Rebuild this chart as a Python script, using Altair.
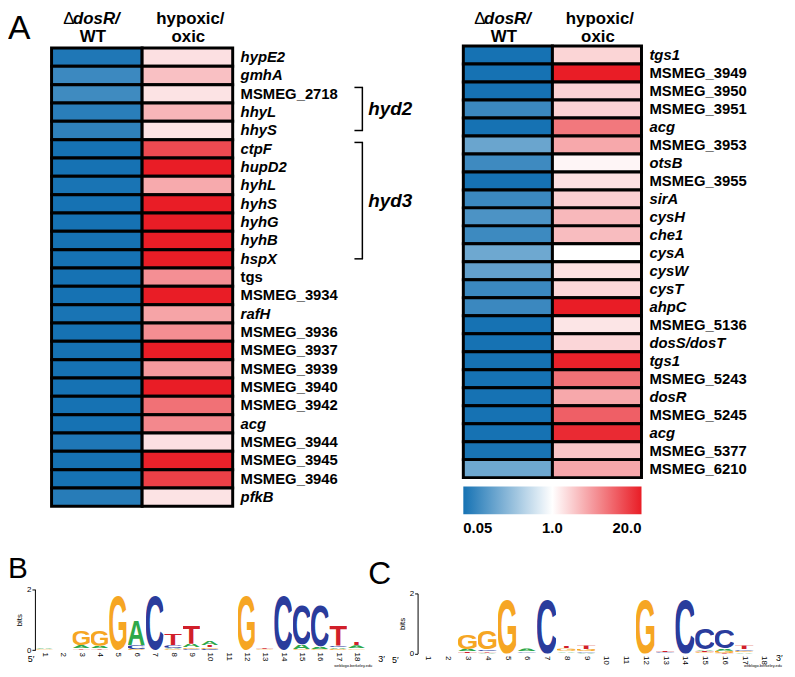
import urllib.parse
import altair as alt
import pandas as pd

FONT = "Liberation Sans, Arial, sans-serif"
W, H = 787, 669

# ---------------- data ----------------
left_genes = ["hypE2", "gmhA", "MSMEG_2718", "hhyL", "hhyS", "ctpF", "hupD2", "hyhL",
              "hyhS", "hyhG", "hyhB", "hspX", "tgs", "MSMEG_3934", "rafH", "MSMEG_3936",
              "MSMEG_3937", "MSMEG_3939", "MSMEG_3940", "MSMEG_3942", "acg", "MSMEG_3944",
              "MSMEG_3945", "MSMEG_3946", "pfkB"]
left_dosR_wt = [0.056, 0.082, 0.085, 0.065, 0.069, 0.05, 0.05, 0.052, 0.05, 0.05, 0.05, 0.05,
                0.05, 0.05, 0.052, 0.05, 0.05, 0.05, 0.05, 0.05, 0.05, 0.056, 0.05, 0.05, 0.062]
left_hypoxic = [1.5, 2.3, 1.45, 2.65, 1.45, 11, 20, 3.1, 20, 20, 20, 20, 4.4, 20, 3.35, 4.5,
                20, 3.8, 20, 6.6, 4.85, 1.5, 19, 12.6, 1.45]

right_genes = ["tgs1", "MSMEG_3949", "MSMEG_3950", "MSMEG_3951", "acg", "MSMEG_3953", "otsB",
               "MSMEG_3955", "sirA", "cysH", "che1", "cysA", "cysW", "cysT", "ahpC",
               "MSMEG_5136", "dosS/dosT", "tgs1", "MSMEG_5243", "dosR", "MSMEG_5245", "acg",
               "MSMEG_5377", "MSMEG_6210"]
right_dosR_wt = [0.05, 0.05, 0.05, 0.08, 0.05, 0.147, 0.084, 0.05, 0.08, 0.10, 0.083, 0.156,
                 0.134, 0.08, 0.08, 0.05, 0.05, 0.05, 0.05, 0.05, 0.05, 0.05, 0.052, 0.156]
right_hypoxic = [1.75, 20, 1.8, 1.8, 6.0, 3.17, 1.14, 1.5, 1.87, 2.56, 2.43, 1.0, 1.5, 1.68, 20,
                 1.41, 1.72, 19, 6.6, 3.17, 8.3, 16.8, 2.13, 3.2]

brackets = ["hyd2", "hyd3"]
bracket_start = [2, 5]
bracket_end = [4, 11]

legend_ticks = [0.05, 1, 20]

positions = list(range(1, 19))
# sequence logo B (bits per letter)
B_G = [0.02, 0, 0.50, 0.53, 1.86, 0.04, 0, 0.03, 0.06, 0.05, 0, 1.86, 0.02, 0, 0.03, 0.03, 0.04, 0.05]
B_A = [0.02, 0, 0.10, 0.08, 0, 0.83, 0, 0.03, 0.12, 0.13, 0, 0, 0, 0, 0.15, 0.08, 0.05, 0.09]
B_C = [0.01, 0, 0.02, 0.02, 0, 0.12, 1.86, 0.10, 0.03, 0.04, 0, 0, 0.01, 1.86, 1.33, 1.39, 0.06, 0.02]
B_T = [0.01, 0, 0.05, 0.04, 0, 0, 0, 0.38, 0.60, 0.08, 0, 0, 0.03, 0, 0, 0, 0.70, 0.11]
# sequence logo C
C_G = [0, 0.01, 0.48, 0.65, 1.87, 0.02, 0, 0.08, 0.08, 0, 0.01, 1.87, 0.02, 0, 0.04, 0.07, 0.05, 0]
C_A = [0, 0.01, 0.08, 0.03, 0, 0.10, 0, 0.06, 0.03, 0, 0, 0, 0.01, 0, 0.06, 0.07, 0.04, 0]
C_C = [0, 0.01, 0.02, 0.06, 0, 0.04, 1.87, 0.03, 0.04, 0, 0.01, 0, 0.02, 1.87, 0.72, 0.65, 0.06, 0]
C_T = [0, 0.01, 0.05, 0.05, 0, 0.01, 0, 0.09, 0.12, 0, 0, 0, 0.04, 0, 0.05, 0.02, 0.12, 0]

# ---------------- styles ----------------
LETTER_COLORS = {"G": "#f6a623", "A": "#2ea84a", "C": "#2a3c9c", "T": "#d11f2a"}


def letter_url(L):
    tall = L in "GC"
    fs = 135 if tall else 139.7
    base = 98.4 if tall else 100
    x0, tl = (-7, 114) if tall else (-1, 102)
    svg = ("<svg xmlns='http://www.w3.org/2000/svg' width='100' height='100' "
           "viewBox='0 0 100 100' preserveAspectRatio='none'>"
           f"<text x='{x0}' y='{base}' font-family='Liberation Sans, Arial, sans-serif' "
           f"font-weight='bold' font-size='{fs}' textLength='{tl}' "
           f"lengthAdjust='spacingAndGlyphs' fill='{LETTER_COLORS[L]}'>{L}</text></svg>")
    return "data:image/svg+xml;charset=utf-8," + urllib.parse.quote(svg)


LETTER_URL = {L: letter_url(L) for L in "GACT"}

color_scale = alt.Scale(type="log", domain=[0.05, 1, 20],
                        range=["#1672b3", "#ffffff", "#e91d26"], interpolate="rgb")
legend = alt.Legend(orient="none", legendX=460, legendY=480, direction="horizontal",
                    gradientLength=180, gradientThickness=28, title=None, values=legend_ticks,
                    labelExpr="datum.value < 0.1 ? '0.05' : format(datum.value, '.1f')",
                    labelFont=FONT, labelFontSize=15, labelFontWeight="bold",
                    labelColor="black", labelAlign="center", labelOffset=7,
                    gradientStrokeWidth=0, padding=0, labelOverlap=False)

ONE = alt.Data(values=[{}])


def txt(text, x, y, size, weight="bold", style="normal", align="left", baseline="alphabetic"):
    return alt.Chart(ONE).mark_text(
        text=text, font=FONT, fontSize=size, fontWeight=weight, fontStyle=style,
        align=align, baseline=baseline, color="black"
    ).encode(x=alt.value(x), y=alt.value(y))


def is_italic(g):
    return not (g.startswith("MSMEG_") or g == "tgs")


def heatmap(genes, v1, v2, xr, yr, label_x):
    n = len(genes)
    cells = pd.DataFrame({
        "row": list(range(n)) * 2,
        "col": [0] * n + [1] * n,
        "value": list(v1) + list(v2),
    })
    xs = alt.Scale(domain=[0, 2], range=xr, nice=False, zero=False)
    ys = alt.Scale(domain=[0, n], range=yr, nice=False, zero=False)
    rect = alt.Chart(cells).transform_calculate(
        col2="datum.col + 1", row2="datum.row + 1"
    ).mark_rect(stroke="black", strokeWidth=3).encode(
        x=alt.X("col:Q", scale=xs, axis=None), x2="col2:Q",
        y=alt.Y("row:Q", scale=ys, axis=None), y2="row2:Q",
        color=alt.Color("value:Q", scale=color_scale, legend=legend),
    )
    labs = pd.DataFrame({"row": list(range(n)), "gene": genes,
                         "ital": [is_italic(g) for g in genes]})
    base = alt.Chart(labs).transform_calculate(yc="datum.row + 0.5")
    layers = [rect]
    for flt, st in (("!datum.ital", "normal"), ("datum.ital", "italic")):
        layers.append(base.transform_filter(flt).mark_text(
            align="left", baseline="middle", font=FONT, fontSize=15, fontWeight="bold",
            fontStyle=st, color="black"
        ).encode(x=alt.value(label_x), y=alt.Y("yc:Q", scale=ys, axis=None), text="gene:N"))
    return layers, xs, ys


def headers(xr, y1, y2):
    c1 = xr[0] + (xr[1] - xr[0]) / 4
    c2 = xr[0] + 3 * (xr[1] - xr[0]) / 4
    return [
        txt("Δ", c1 - 34, y1, 17, weight="normal"),
        txt("dosR/", c1 - 24, y1, 17, style="italic"),
        txt("WT", c1 - 4, y2, 17, align="center"),
        txt("hypoxic/", c2 + 3, y1, 17, align="center"),
        txt("oxic", c2 + 1, y2, 17, align="center"),
    ]


# left panel
L_XR, L_YR = [44, 227], [37, 500]
left_layers, lxs, lys = heatmap(left_genes, left_dosR_wt, left_hypoxic, L_XR, L_YR, 235)

bdf = pd.DataFrame({"name": brackets, "start": bracket_start, "end": bracket_end})
bb = alt.Chart(bdf).transform_calculate(
    y0="datum.start + 0.15", y1="datum.end + 0.5", ym="(datum.start + 0.15 + datum.end + 0.5) / 2"
)
bracket_layers = [
    bb.mark_rule(color="black", strokeWidth=1.5).encode(
        x=alt.value(358), y=alt.Y("y0:Q", scale=lys, axis=None), y2="y1:Q"),
    bb.mark_rule(color="black", strokeWidth=1.5).encode(
        x=alt.value(350), x2=alt.value(358.7), y=alt.Y("y0:Q", scale=lys, axis=None)),
    bb.mark_rule(color="black", strokeWidth=1.5).encode(
        x=alt.value(350), x2=alt.value(358.7), y=alt.Y("y1:Q", scale=lys, axis=None)),
    bb.mark_text(align="left", baseline="middle", font=FONT, fontSize=19, fontWeight="bold",
                 fontStyle="italic", color="black").encode(
        x=alt.value(364), y=alt.Y("ym:Q", scale=lys, axis=None), text="name:N"),
]
left_panel = alt.layer(*left_layers, *bracket_layers)

# right panel
R_XR, R_YR = [460, 640], [35, 471]
right_layers, rxs, rys = heatmap(right_genes, right_dosR_wt, right_hypoxic, R_XR, R_YR, 648)
right_panel = alt.layer(*right_layers)


# sequence logos
def logo(G, A, C, T, xr, yr):
    rows = []
    for i, p in enumerate(positions):
        for L, arr in zip("GACT", (G, A, C, T)):
            rows.append({"pos": p, "letter": L, "h": arr[i], "url": LETTER_URL[L]})
    df = pd.DataFrame(rows)
    xs = alt.Scale(domain=[0.5, 18.5], range=xr, nice=False, zero=False)
    ys = alt.Scale(domain=[0, 2], range=yr, nice=False, zero=False)
    xaxis = alt.Axis(orient="bottom", offset=yr[0] - H, values=positions, format="d",
                     title=None, labelAngle=90, labelFont=FONT, labelFontSize=8,
                     labelColor="black", labelPadding=2, domain=False, ticks=False, grid=False)
    yaxis = alt.Axis(orient="left", offset=-(xr[0] - 0.5), values=[0, 1, 2], format="d",
                     title="bits", titleFont=FONT, titleFontSize=8, titleFontWeight="normal",
                     titleColor="black", titlePadding=3, labelFont=FONT, labelFontSize=8,
                     labelColor="black", labelPadding=1, tickSize=3, tickColor="black",
                     domainColor="black", grid=False)
    return alt.Chart(df).transform_filter("datum.h > 0").transform_stack(
        stack="h", groupby=["pos"], sort=[alt.SortField(field="h", order="ascending")],
        as_=["b0", "b1"]
    ).transform_calculate(xa="datum.pos - 0.48", xb="datum.pos + 0.48").mark_image(
        aspect=False
    ).encode(
        x=alt.X("xa:Q", scale=xs, axis=xaxis), x2="xb:Q",
        y=alt.Y("b0:Q", scale=ys, axis=yaxis), y2="b1:Q",
        url="url:N",
    )


logoB = logo(B_G, B_A, B_C, B_T, [27.7, 361.3], [645.3, 583.7])
logoC = logo(C_G, C_A, C_C, C_T, [414.3, 773.7], [648.7, 588])

annotations = (
    headers(L_XR, 12.5, 31) + headers(R_XR, 12.5, 31) + [
        txt("A", 0, 28, 34, weight="normal"),
        txt("B", 0, 572, 30, weight="normal"),
        txt("C", 364, 578, 32, weight="normal"),
        txt("5′", 20, 657, 9, weight="normal"),
        txt("3′", 374, 657, 9, weight="normal"),
        txt("5′", 388, 658, 9, weight="normal"),
        txt("3′", 776, 656, 9, weight="normal"),
        txt("weblogo.berkeley.edu", 368, 662, 4, weight="normal", align="right"),
        txt("weblogo.berkeley.edu", 782, 662, 4, weight="normal", align="right"),
    ]
)

chart = alt.layer(left_panel, right_panel, logoB, logoC, *annotations).resolve_scale(
    x="independent", y="independent"
).properties(
    width=W, height=H, padding=0, autosize=alt.AutoSizeParams(type="none"),
    background="white",
).configure_view(stroke=None)

chart.save("out.html", embed_options={"renderer": "svg", "actions": False})
